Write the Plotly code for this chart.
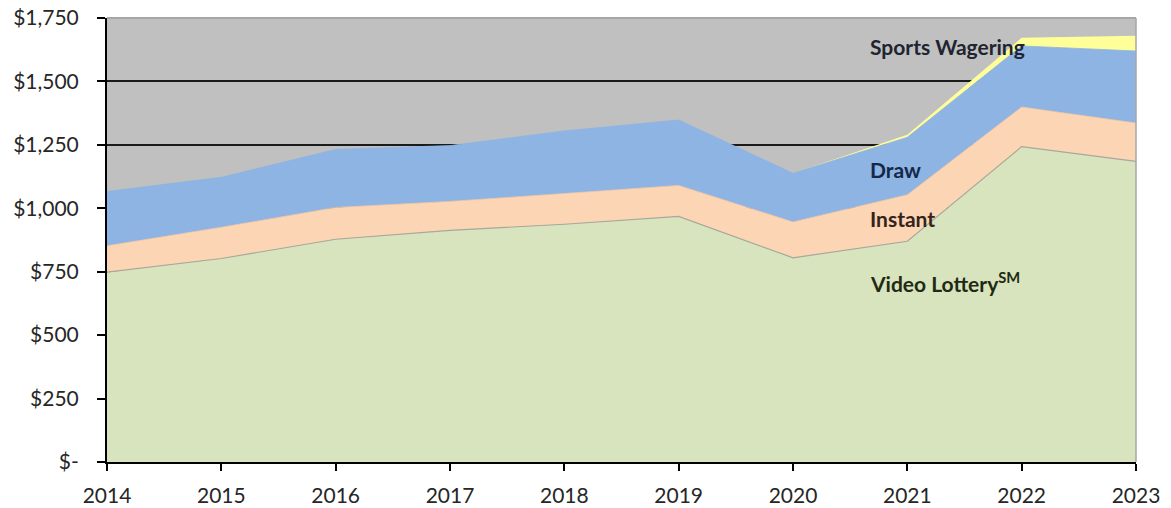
import plotly.graph_objects as go

years = [2014, 2015, 2016, 2017, 2018, 2019, 2020, 2021, 2022, 2023]
video_lottery = [748, 802, 878, 913, 937, 968, 805, 870, 1243, 1185]
instant = [104, 123, 125, 114, 121, 122, 141, 183, 156, 151]
draw = [214, 197, 229, 220, 247, 258, 192, 227, 241, 284]
sports_wagering = [0, 0, 0, 0, 0, 0, 0, 10, 32, 60]

y_ticks = [0, 250, 500, 750, 1000, 1250, 1500, 1750]
y_tick_labels = ["$-", "$250", "$500", "$750", "$1,000", "$1,250", "$1,500", "$1,750"]

FONT = "Lato, 'Open Sans', sans-serif"

fig = go.Figure()
fig.add_trace(go.Scatter(x=years, y=video_lottery, name="Video Lottery", stackgroup="one",
                         mode="lines", line=dict(color="#a8a89c", width=1.2),
                         fillcolor="#d7e4bd"))
fig.add_trace(go.Scatter(x=years, y=instant, name="Instant", stackgroup="one",
                         mode="lines", line=dict(color="#f6c8a4", width=0.8),
                         fillcolor="#fcd5b5"))
fig.add_trace(go.Scatter(x=years, y=draw, name="Draw", stackgroup="one",
                         mode="lines", line=dict(color="#8db4e2", width=0.8),
                         fillcolor="#8db4e2"))
fig.add_trace(go.Scatter(x=years, y=sports_wagering, name="Sports Wagering", stackgroup="one",
                         mode="lines", line=dict(width=0),
                         fillcolor="#ffff99"))

fig.add_annotation(x=2020.66, y=1638, text="<b>Sports Wagering</b>", showarrow=False,
                   xanchor="left", yanchor="middle", font=dict(family=FONT, size=21, color="#1e2530"))
fig.add_annotation(x=2020.66, y=1153, text="<b>Draw</b>", showarrow=False,
                   xanchor="left", yanchor="middle", font=dict(family=FONT, size=21, color="#14284a"))
fig.add_annotation(x=2020.66, y=961, text="<b>Instant</b>", showarrow=False,
                   xanchor="left", yanchor="middle", font=dict(family=FONT, size=21, color="#33231a"))
fig.add_annotation(x=2020.66, y=709, text="<b>Video Lottery<sup>SM</sup></b>", showarrow=False,
                   xanchor="left", yanchor="middle", font=dict(family=FONT, size=21, color="#1f2a14"))

# gray plot-area border on top and right
fig.add_shape(type="line", xref="paper", yref="paper", x0=0, x1=1, y0=1, y1=1,
              line=dict(color="#a6a6a6", width=2), layer="above")
fig.add_shape(type="line", xref="paper", yref="paper", x0=1, x1=1, y0=0, y1=1,
              line=dict(color="#a6a6a6", width=1.5), layer="above")

# page body has an 8px default margin; figure offset accordingly
fig.update_layout(
    width=1163, height=500, autosize=False,
    margin=dict(l=99, r=35, t=10, b=46, pad=0),
    paper_bgcolor="white",
    plot_bgcolor="#c0c0c0",
    showlegend=False,
    font=dict(family=FONT, size=21, color="#262626"),
)
fig.update_xaxes(range=[2014, 2023], tickvals=years, ticktext=[str(y) for y in years],
                 showgrid=False, zeroline=False, showline=True, linecolor="black", linewidth=2,
                 ticks="outside", ticklen=7, tickwidth=1.5, tickcolor="black", automargin=False,
                 ticklabeloverflow="allow",
                 tickfont=dict(family=FONT, size=21, color="#262626"), ticklabelstandoff=7)
fig.update_yaxes(range=[0, 1750], tickvals=y_ticks, ticktext=y_tick_labels,
                 showgrid=True, gridcolor="#1a1a1a", gridwidth=1.5, zeroline=False,
                 showline=True, linecolor="black", linewidth=2, automargin=False,
                 ticklabeloverflow="allow",
                 ticks="outside", ticklen=8, tickwidth=1.5, tickcolor="black",
                 tickfont=dict(family=FONT, size=21, color="#262626"), ticklabelstandoff=14)

fig.write_html("out.html")
